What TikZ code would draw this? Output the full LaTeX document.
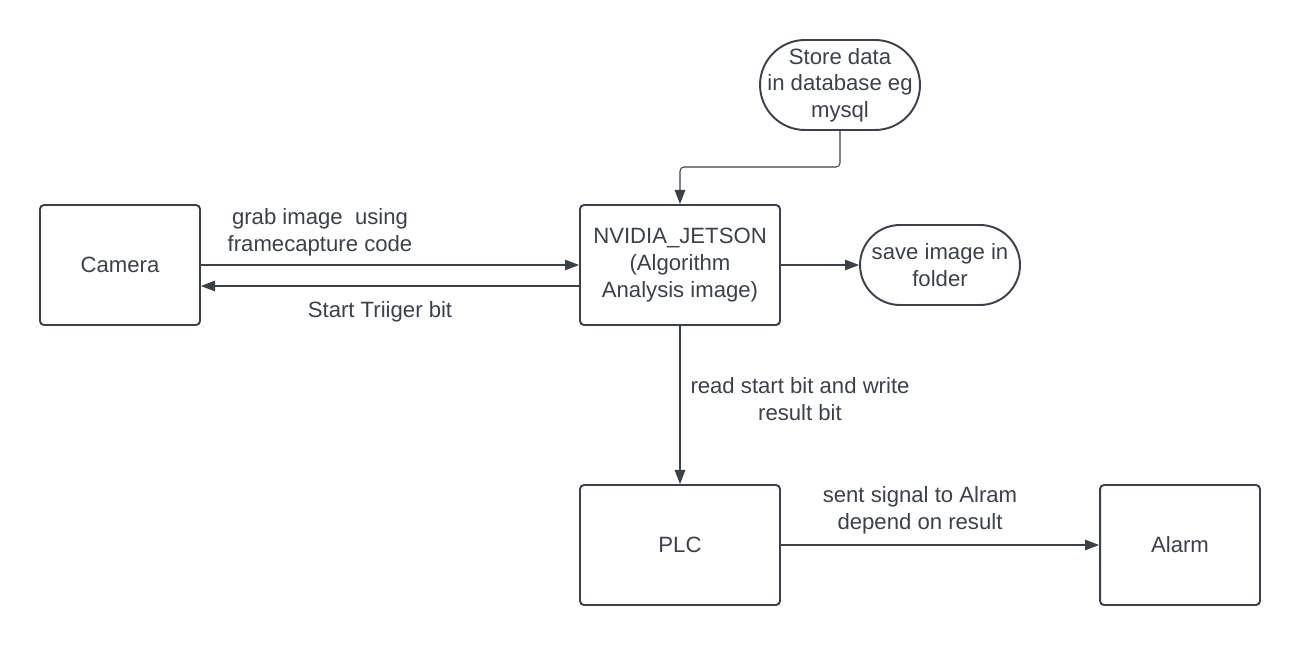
\documentclass[tikz,border=0pt]{standalone}
\usepackage{fontspec}
\setmainfont{Liberation Sans}
\usetikzlibrary{arrows.meta, positioning}
\definecolor{ink}{HTML}{3A414A}

\begin{document}
\begin{tikzpicture}[
    x=0.02cm, y=-0.02cm,
    font=\fontsize{12.6}{15.2}\selectfont,
    box/.style={rectangle, draw=ink, line width=1.1pt, rounded corners=0.08cm, minimum width=3.2cm, minimum height=2.4cm, text=ink, align=center},
    pill/.style={rectangle, draw=ink, line width=1.1pt, minimum width=3.2cm, text=ink, align=center, inner sep=1pt},
    lbl/.style={text=ink, align=center},
    arrow/.style={-{Triangle[length=8pt, width=6pt]}, draw=ink, line width=0.6pt}
]
    \useasboundingbox (0,0) rectangle (1300,645);

    % Capture side
    \node[box] (camera) at (120,265) {Camera};
    \node[box, minimum width=4cm] (jetson) at (680,265) {NVIDIA\_JETSON\\(Algorithm\\Analysis image)};
    \draw[arrow] (camera) -- (jetson);
    \draw[arrow] ([yshift=-0.42cm]jetson.west) -- ([yshift=-0.42cm]camera.east);
    \node[lbl] (grab) at (320,232) {grab image\ \ using\\framecapture code};
    \node[lbl] (trig) at (380,312) {Start Triiger bit};

    % Storage
    \node[pill, minimum height=1.8cm, rounded corners=0.9cm] (store) at (840,85) {Store data\\in database eg\\mysql};
    \node[pill, minimum height=1.6cm, rounded corners=0.8cm] (save) at (940,265) {save image in\\folder};
    \coordinate (bend) at (840,167);
    \draw[arrow, rounded corners=0.08cm] (store) -- (bend) -| (jetson);
    \draw[arrow] (jetson) -- (save);

    % Control side
    \node[box, minimum width=4cm] (plc) at (680,545) {PLC};
    \node[box] (alarm) at (1180,545) {Alarm};
    \draw[arrow] (jetson) -- (plc);
    \draw[arrow] (plc) -- (alarm);
    \node[lbl] (read) at (800,399) {read start bit and write\\result bit};
    \node[lbl] (sent) at (920,510) {sent signal to Alram\\depend on result};
\end{tikzpicture}
\end{document}
